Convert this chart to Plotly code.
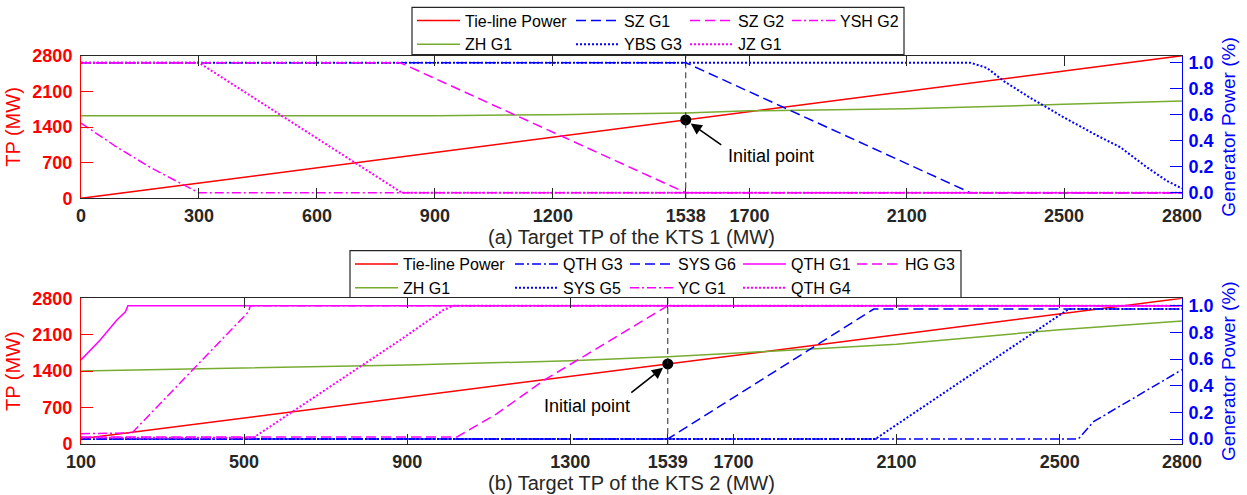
import plotly.graph_objects as go

# ---------------- data ----------------
# Panel (a): KTS 1
A_XTICKS = [0, 300, 600, 900, 1200, 1538, 1700, 2100, 2500, 2800]
A_INIT = 1538
a_tie_x = [0, 300, 600, 900, 1200, 1538, 1700, 2100, 2500, 2800]
a_tie_y = [0, 300, 600, 900, 1200, 1538, 1700, 2100, 2500, 2800]
a_zh_x = [0, 300, 600, 900, 1200, 1538, 1700, 2100, 2500, 2800]
a_zh_y = [0.592, 0.592, 0.590, 0.592, 0.600, 0.613, 0.630, 0.645, 0.680, 0.706]
a_szg1_x = [0, 1538, 2262, 2800]
a_szg1_y = [1.0, 1.0, 0.0, 0.0]
a_szg2_x = [0, 812, 1538, 2800]
a_szg2_y = [1.0, 1.0, 0.0, 0.0]
a_yshg2_x = [0, 91, 176, 299, 2800]
a_yshg2_y = [0.536, 0.351, 0.195, 0.0, 0.0]
a_ybsg3_x = [0, 2262, 2304, 2346, 2414, 2499, 2584, 2643, 2711, 2762, 2800]
a_ybsg3_y = [1.0, 1.0, 0.96, 0.86, 0.73, 0.58, 0.44, 0.35, 0.195, 0.09, 0.033]
a_jzg1_x = [0, 300, 816, 2800]
a_jzg1_y = [1.0, 1.0, 0.0, 0.0]

# Panel (b): KTS 2
B_XTICKS = [100, 500, 900, 1300, 1539, 1700, 2100, 2500, 2800]
B_INIT = 1539
b_tie_x = [100, 500, 900, 1300, 1539, 1700, 2100, 2500, 2800]
b_tie_y = [100, 500, 900, 1300, 1539, 1700, 2100, 2500, 2800]
b_zh_x = [100, 500, 900, 1300, 1539, 1700, 2100, 2500, 2800]
b_zh_y = [0.51, 0.535, 0.555, 0.587, 0.617, 0.643, 0.71, 0.82, 0.885]
b_qthg3_x = [100, 2546, 2583, 2800]
b_qthg3_y = [0.0, 0.0, 0.13, 0.52]
b_sysg6_x = [100, 1539, 2044, 2800]
b_sysg6_y = [0.0, 0.0, 0.975, 0.975]
b_qthg1_x = [100, 147, 188, 209, 215, 2800]
b_qthg1_y = [0.593, 0.743, 0.893, 0.955, 1.0, 1.0]
b_hgg3_x = [100, 1022, 1120, 1235, 1539, 2800]
b_hgg3_y = [0.015, 0.015, 0.19, 0.44, 1.0, 1.0]
b_sysg5_x = [100, 2048, 2522, 2800]
b_sysg5_y = [0.0, 0.0, 0.975, 0.975]
b_ycg1_x = [100, 225, 511, 515, 2800]
b_ycg1_y = [0.04, 0.045, 0.955, 1.0, 1.0]
b_qthg4_x = [100, 523, 883, 989, 1014, 2800]
b_qthg4_y = [0.01, 0.01, 0.743, 0.968, 1.0, 1.0]

TP_TICKS = [0, 700, 1400, 2100, 2800]
GP_TICKS = [0.0, 0.2, 0.4, 0.6, 0.8, 1.0]

# ---------------- style ----------------
W, H = 1247, 495
ML, MR = 81, 65
PW = W - ML - MR
FONT = "Liberation Sans, Arial, sans-serif"
RED, BLUE, MAG, GRN, DARK = "#FF0000", "#0000FF", "#FF00FF", "#77AC30", "#262626"
DASH = "10px,5px"
DASHDOT = "9px,3px,2px,3px"
DOT = "2px,2px"


def pxx(p):
    return (p - ML) / PW


def pxy(p):
    return 1 - p / H


fig = go.Figure()


def add(x, y, name, xa, ya, color, dash, legend, width=1.5):
    fig.add_trace(go.Scatter(x=x, y=y, name=name, mode="lines", xaxis=xa, yaxis=ya,
                             line=dict(color=color, dash=dash, width=width), legend=legend))


# panel (a)
add(a_tie_x, a_tie_y, "Tie-line Power", "x", "y", RED, "solid", "legend2")
add(a_zh_x, a_zh_y, "ZH G1", "x", "y2", GRN, "solid", "legend2")
add(a_szg1_x, a_szg1_y, "SZ G1", "x", "y2", BLUE, DASH, "legend3")
add(a_ybsg3_x, a_ybsg3_y, "YBS G3", "x", "y2", BLUE, DOT, "legend3", 2)
add(a_szg2_x, a_szg2_y, "SZ G2", "x", "y2", MAG, DASH, "legend4")
add(a_jzg1_x, a_jzg1_y, "JZ G1", "x", "y2", MAG, DOT, "legend4", 2)
add(a_yshg2_x, a_yshg2_y, "YSH G2", "x", "y2", MAG, DASHDOT, "legend5")
fig.add_trace(go.Scatter(x=[A_INIT], y=[a_tie_y[a_tie_x.index(A_INIT)]], mode="markers",
                         xaxis="x", yaxis="y", showlegend=False,
                         marker=dict(color="black", size=11, symbol="circle")))

# panel (b)
add(b_tie_x, b_tie_y, "Tie-line Power", "x2", "y3", RED, "solid", "legend6")
add(b_zh_x, b_zh_y, "ZH G1", "x2", "y4", GRN, "solid", "legend6")
add(b_qthg3_x, b_qthg3_y, "QTH G3", "x2", "y4", BLUE, DASHDOT, "legend7")
add(b_sysg5_x, b_sysg5_y, "SYS G5", "x2", "y4", BLUE, DOT, "legend7", 2)
add(b_sysg6_x, b_sysg6_y, "SYS G6", "x2", "y4", BLUE, DASH, "legend8")
add(b_ycg1_x, b_ycg1_y, "YC G1", "x2", "y4", MAG, DASHDOT, "legend8")
add(b_qthg1_x, b_qthg1_y, "QTH G1", "x2", "y4", MAG, "solid", "legend9")
add(b_qthg4_x, b_qthg4_y, "QTH G4", "x2", "y4", MAG, DOT, "legend9", 2)
add(b_hgg3_x, b_hgg3_y, "HG G3", "x2", "y4", MAG, DASH, "legend10")
fig.add_trace(go.Scatter(x=[B_INIT], y=[b_tie_y[b_tie_x.index(B_INIT)]], mode="markers",
                         xaxis="x2", yaxis="y3", showlegend=False,
                         marker=dict(color="black", size=11, symbol="circle")))

# ---------------- axes ----------------
TICK_SIZE = 18
tickfont_x = dict(family=FONT, size=TICK_SIZE, color=DARK, weight="bold")
tickfont_l = dict(family=FONT, size=TICK_SIZE, color=RED, weight="bold")
tickfont_r = dict(family=FONT, size=TICK_SIZE, color=BLUE, weight="bold")
xtitle_font = dict(family=FONT, size=20, color=DARK)
ltitle_font = dict(family=FONT, size=20, color=RED)
rtitle_font = dict(family=FONT, size=19, color=BLUE)

TOP_DOM = [pxy(198.3), pxy(55.7)]
BOT_DOM = [pxy(444), pxy(298.3)]

xcommon = dict(showline=True, linecolor=DARK, linewidth=1, mirror="ticks", ticks="inside",
               ticklen=10, tickcolor=DARK, tickwidth=1, showgrid=False, zeroline=False,
               tickfont=tickfont_x, ticklabelstandoff=1, automargin=False)
ycommon = dict(showline=True, linewidth=1, ticks="inside", ticklen=12, tickwidth=1,
               showgrid=False, zeroline=False, automargin=False)

fig.update_layout(
    xaxis=dict(domain=[0, 1], anchor="y", range=[0, 2800], tickvals=A_XTICKS,
               title=dict(text="(a) Target TP of the KTS 1 (MW)", font=xtitle_font, standoff=0),
               **xcommon),
    yaxis=dict(domain=TOP_DOM, anchor="x", range=[0, 2800], tickvals=TP_TICKS,
               linecolor=RED, tickcolor=RED, tickfont=tickfont_l, ticklabelstandoff=4,
               title=dict(text="TP (MW)", font=ltitle_font, standoff=6),
               **ycommon),
    yaxis2=dict(overlaying="y", side="right", anchor="x", range=[-0.043, 1.054],
                tickvals=GP_TICKS, tickformat=".1f", linecolor=BLUE, tickcolor=BLUE,
                tickfont=tickfont_r, ticklabelstandoff=2,
                title=dict(text="Generator Power (%)", font=rtitle_font, standoff=9),
                **ycommon),
    xaxis2=dict(domain=[0, 1], anchor="y3", range=[100, 2800], tickvals=B_XTICKS,
                title=dict(text="(b) Target TP of the KTS 2 (MW)", font=xtitle_font, standoff=0),
                **xcommon),
    yaxis3=dict(domain=BOT_DOM, anchor="x2", range=[0, 2800], tickvals=TP_TICKS,
                linecolor=RED, tickcolor=RED, tickfont=tickfont_l, ticklabelstandoff=4,
                title=dict(text="TP (MW)", font=ltitle_font, standoff=6),
                **ycommon),
    yaxis4=dict(overlaying="y3", side="right", anchor="x2", range=[-0.0375, 1.0555],
                tickvals=GP_TICKS, tickformat=".1f", linecolor=BLUE, tickcolor=BLUE,
                tickfont=tickfont_r, ticklabelstandoff=2,
                title=dict(text="Generator Power (%)", font=rtitle_font, standoff=9),
                **ycommon),
)

# ---------------- legends (one per column) ----------------
LEG_FONT = dict(family=FONT, size=16, color="#000000")


def legend_at(line_start_px, top_px):
    return dict(x=pxx(line_start_px - 5), y=pxy(top_px), xanchor="left", yanchor="top",
                orientation="v", bgcolor="rgba(0,0,0,0)", borderwidth=0, font=LEG_FONT,
                itemwidth=43, tracegroupgap=0)


fig.update_layout(
    showlegend=True,
    legend2=legend_at(417, 3.5),
    legend3=legend_at(576, 3.5),
    legend4=legend_at(690, 3.5),
    legend5=legend_at(792, 3.5),
    legend6=legend_at(355, 247),
    legend7=legend_at(515, 247),
    legend8=legend_at(630, 247),
    legend9=legend_at(743, 247),
    legend10=legend_at(857, 247),
)

shapes = [
    dict(type="rect", xref="paper", yref="paper", x0=pxx(412), x1=pxx(904),
         y0=pxy(54.5), y1=pxy(7.3), line=dict(color=DARK, width=1.2)),
    dict(type="rect", xref="paper", yref="paper", x0=pxx(350), x1=pxx(961),
         y0=pxy(297.5), y1=pxy(250.7), line=dict(color=DARK, width=1.2)),
    dict(type="line", xref="x", yref="y domain", x0=A_INIT, x1=A_INIT, y0=0, y1=1,
         line=dict(color=DARK, width=1, dash="6px,4px")),
    dict(type="line", xref="x2", yref="y3 domain", x0=B_INIT, x1=B_INIT, y0=0, y1=1,
         line=dict(color=DARK, width=1, dash="6px,4px")),
]

ann_font = dict(family=FONT, size=18, color="#000000")
annotations = [
    dict(x=A_INIT, y=A_INIT, xref="x", yref="y", text="", showarrow=True, ax=37, ay=26,
         arrowhead=2, arrowsize=1.4, arrowwidth=1.6, arrowcolor="black", standoff=6),
    dict(x=1754, y=836, xref="x", yref="y", text="Initial point", showarrow=False,
         font=ann_font, xanchor="center", yanchor="middle"),
    dict(x=B_INIT, y=B_INIT, xref="x2", yref="y3", text="", showarrow=True, ax=-38, ay=30,
         arrowhead=2, arrowsize=1.4, arrowwidth=1.6, arrowcolor="black", standoff=6),
    dict(x=1341, y=736, xref="x2", yref="y3", text="Initial point", showarrow=False,
         font=ann_font, xanchor="center", yanchor="middle"),
]

fig.update_layout(
    width=W, height=H,
    margin=dict(l=ML, r=MR, t=0, b=0, autoexpand=False),
    paper_bgcolor="white", plot_bgcolor="white",
    font=dict(family=FONT, color=DARK),
    shapes=shapes, annotations=annotations,
)

# remove the default 8px page margin so the figure fills the 1247x495 window exactly
fig.write_html("out.html", config={"displayModeBar": False},
               post_script="document.body.style.margin='0px';")
